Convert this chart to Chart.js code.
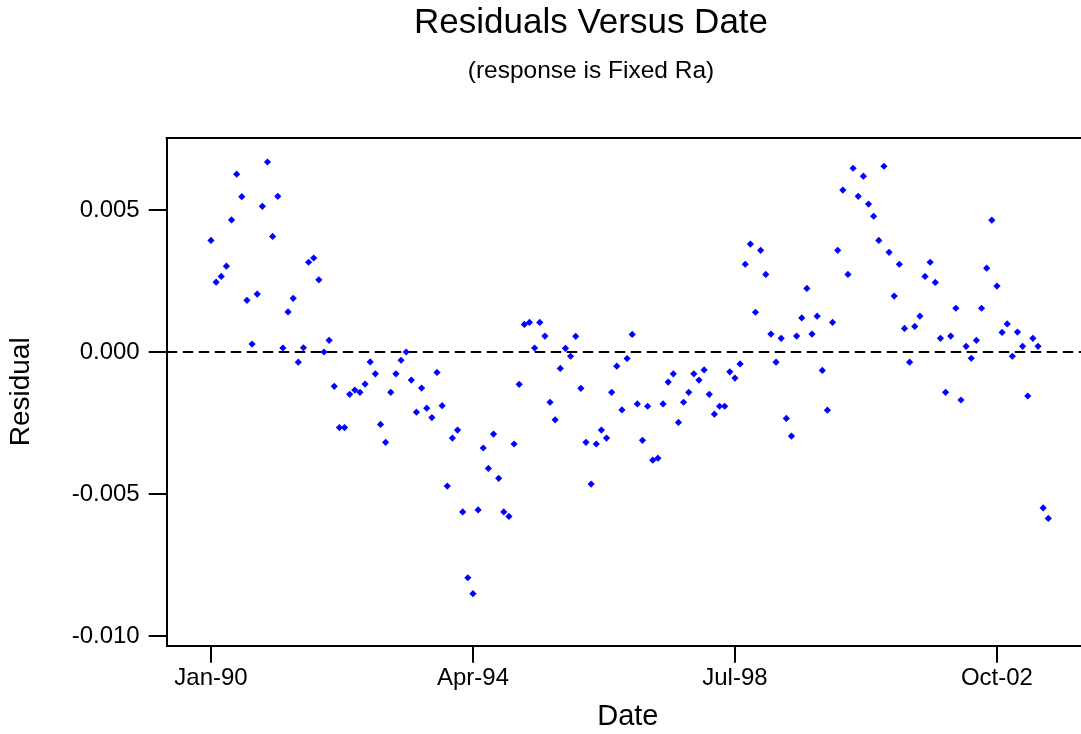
<!DOCTYPE html>
<html lang="en">

<head>
    <meta charset="UTF-8">
    <script src="https://cdn.jsdelivr.net/npm/chart.js"></script>
    <title>Residuals Versus Date</title>
    <style>
        * {
            margin: 0px;
            padding: 0px;
        }

        /* the original graph is wider than the window and cut on the right */
        body {
            background: #fff;
            overflow: hidden;
            width: 1081px;
            height: 734px;
        }
    </style>
</head>

<body>
    <canvas id="myChart" width="1182" height="734"></canvas>

    <script>
        // monthly residuals, one per observation starting Jan-90
        const residuos = [
            0.00393, 0.00246, 0.00266, 0.00302, 0.00465, 0.00626, 0.00547, 0.00182, 0.00028, 0.00204,
            0.00513, 0.00669, 0.00407, 0.00548, 0.00014, 0.00141, 0.00189, -0.00036, 0.00015, 0.00316,
            0.00331, 0.00254, 0.00000, 0.00041, -0.00121, -0.00266, -0.00266, -0.00149, -0.00134, -0.00142,
            -0.00113, -0.00035, -0.00077, -0.00255, -0.00318, -0.00142, -0.00077, -0.00029, 0.00000, -0.00099,
            -0.00212, -0.00127, -0.00198, -0.00231, -0.00072, -0.00189, -0.00472, -0.00303, -0.00275, -0.00563,
            -0.00795, -0.00851, -0.00556, -0.00338, -0.00410, -0.00289, -0.00445, -0.00563, -0.00579, -0.00324,
            -0.00114, 0.00097, 0.00104, 0.00014, 0.00104, 0.00056, -0.00177, -0.00239, -0.00058, 0.00013,
            -0.00015, 0.00055, -0.00128, -0.00318, -0.00465, -0.00324, -0.00275, -0.00303, -0.00142, -0.00050,
            -0.00204, -0.00023, 0.00062, -0.00183, -0.00311, -0.00191, -0.00381, -0.00374, -0.00183, -0.00106,
            -0.00077, -0.00248, -0.00177, -0.00142, -0.00077, -0.00099, -0.00063, -0.00149, -0.00219, -0.00191,
            -0.00191, -0.00070, -0.00092, -0.00042, 0.00309, 0.00380, 0.00140, 0.00358, 0.00273, 0.00063,
            -0.00036, 0.00048, -0.00234, -0.00296, 0.00056, 0.00120, 0.00224, 0.00063, 0.00126, -0.00065,
            -0.00205, 0.00104, 0.00358, 0.00570, 0.00273, 0.00647, 0.00548, 0.00619, 0.00521, 0.00478,
            0.00393, 0.00654, 0.00351, 0.00197, 0.00309, 0.00083, -0.00036, 0.00090, 0.00126, 0.00266,
            0.00316, 0.00245, 0.00048, -0.00142, 0.00056, 0.00154, -0.00169, 0.00020, -0.00022, 0.00041,
            0.00154, 0.00295, 0.00464, 0.00232, 0.00069, 0.00099, -0.00015, 0.00070, 0.00020, -0.00155,
            0.00048, 0.00020, -0.00549, -0.00586
        ];
        const posEtiquetasX = [0, 51, 102, 153];
        const etiquetasX = ['Jan-90', 'Apr-94', 'Jul-98', 'Oct-02'];
        const ticksY = [-0.010, -0.005, 0.000, 0.005];

        const xMin = -8.62;
        const xMax = 170.92;
        const fuente = 'Arial, "Liberation Sans", sans-serif';

        const puntos = residuos.map((r, i) => ({ x: i, y: r }));

        // frame of the plot area (top and right lines)
        const marco = {
            id: 'marco',
            afterLayout(chart) {
                // the y axis keeps its labels and title in the left margin
                chart.scales.y.left = 0;
            },
            afterDraw(chart) {
                const a = chart.chartArea;
                const c = chart.ctx;
                c.save();
                c.strokeStyle = '#000';
                c.lineWidth = 2;
                c.beginPath();
                c.moveTo(a.left - 1, a.top);
                c.lineTo(a.right, a.top);
                c.lineTo(a.right, a.bottom);
                c.stroke();
                c.restore();
            }
        };

        Chart.defaults.color = '#000';
        Chart.defaults.font.family = fuente;

        const ctx = document.getElementById('myChart').getContext('2d');
        const myChart = new Chart(ctx, {
            type: 'scatter',
            data: {
                datasets: [{
                    data: puntos,
                    pointStyle: 'rectRot',
                    pointRadius: 3.6,
                    pointBorderWidth: 0,
                    backgroundColor: '#0000ff',
                    borderColor: '#0000ff'
                }, {
                    type: 'line',
                    data: [{ x: xMin, y: 0 }, { x: xMax, y: 0 }],
                    borderColor: '#000',
                    borderWidth: 2,
                    borderDash: [10.5, 5.5],
                    pointRadius: 0,
                    fill: false
                }]
            },
            options: {
                responsive: false,
                animation: false,
                // equal side padding keeps the titles centred on the full (uncut) graph
                layout: { padding: { left: 93, right: 93, top: 0, bottom: 0 } },
                scales: {
                    x: {
                        type: 'linear',
                        min: xMin,
                        max: xMax,
                        afterBuildTicks: (s) => { s.ticks = posEtiquetasX.map(v => ({ value: v })); },
                        afterFit: (s) => {
                            s.height = 88.3;
                            s.paddingLeft = 0;
                            s.paddingRight = 0;
                        },
                        ticks: {
                            autoSkip: false,
                            maxRotation: 0,
                            padding: 1,
                            font: { size: 24 },
                            callback: (v) => etiquetasX[posEtiquetasX.indexOf(v)]
                        },
                        grid: {
                            drawOnChartArea: false,
                            color: '#000',
                            lineWidth: 2,
                            tickLength: 17
                        },
                        border: { color: '#000', width: 2 },
                        title: {
                            display: true,
                            text: 'Date',
                            font: { size: 29 },
                            padding: { top: 0, bottom: 0 }
                        }
                    },
                    y: {
                        min: -0.010342,
                        max: 0.007535,
                        afterBuildTicks: (s) => { s.ticks = ticksY.map(v => ({ value: v })); },
                        afterFit: (s) => { s.width = 73.7; },
                        ticks: {
                            padding: 9,
                            font: { size: 24 },
                            callback: (v) => v.toFixed(3)
                        },
                        grid: {
                            drawOnChartArea: false,
                            color: '#000',
                            lineWidth: 2,
                            tickLength: 18
                        },
                        border: { color: '#000', width: 2 },
                        title: {
                            display: true,
                            text: 'Residual',
                            font: { size: 28 },
                            padding: { top: 4.2, bottom: 0 }
                        }
                    }
                },
                plugins: {
                    legend: { display: false },
                    tooltip: { enabled: false },
                    title: {
                        display: true,
                        text: 'Residuals Versus Date',
                        font: { size: 35, weight: 'normal' },
                        padding: { top: 1.9, bottom: 0 }
                    },
                    subtitle: {
                        display: true,
                        text: '(response is Fixed Ra)',
                        font: { size: 24.5, weight: 'normal' },
                        padding: { top: 12.9, bottom: 51.8 }
                    }
                }
            },
            plugins: [marco]
        });
    </script>
</body>

</html>
